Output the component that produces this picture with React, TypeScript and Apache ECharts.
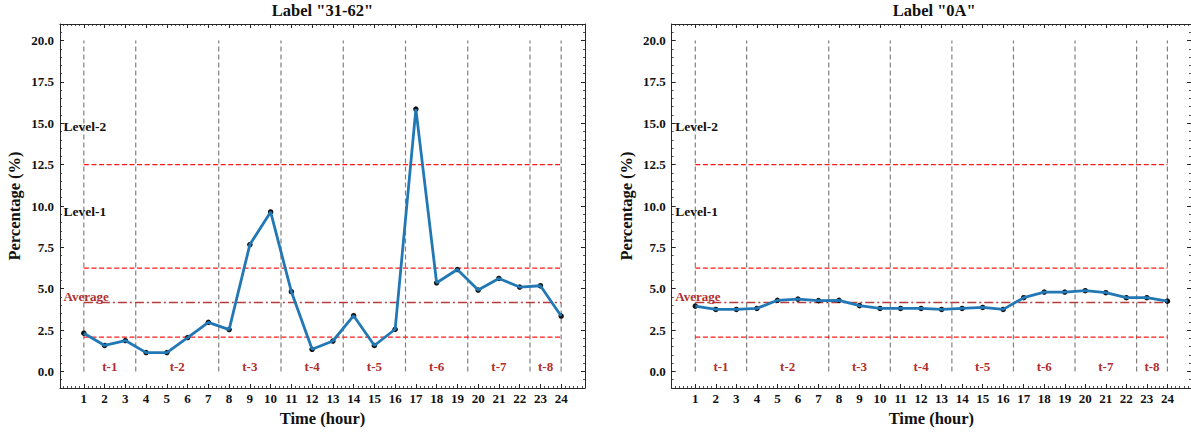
import React, { useEffect, useRef } from 'react';
import * as echarts from 'echarts';

const hours = [1, 2, 3, 4, 5, 6, 7, 8, 9, 10, 11, 12, 13, 14, 15, 16, 17, 18, 19, 20, 21, 22, 23, 24];
const seriesA = [2.31, 1.57, 1.87, 1.14, 1.14, 2.05, 2.97, 2.53, 7.67, 9.64, 4.82, 1.34, 1.84, 3.37, 1.57, 2.55, 15.86, 5.36, 6.16, 4.92, 5.62, 5.1, 5.18, 3.35];
const seriesB = [3.95, 3.75, 3.75, 3.81, 4.3, 4.37, 4.28, 4.3, 3.98, 3.81, 3.81, 3.81, 3.75, 3.81, 3.87, 3.75, 4.46, 4.8, 4.8, 4.88, 4.76, 4.46, 4.46, 4.25];
const titles = ['Label "31-62"', 'Label "0A"'];
const periodBounds = [1, 3.5, 7.5, 10.5, 13.5, 16.5, 19.5, 22.5, 24];
const periodNames = ['t-1', 't-2', 't-3', 't-4', 't-5', 't-6', 't-7', 't-8'];
const periodCenters = [2.25, 5.5, 9, 12, 15, 18, 21, 23.25];
const periodLabelY = 0.3;
const thresholdLevels = [2.08, 6.25, 12.5];
const averageLevel = 4.17;
const levelNames = ['Level-1', 'Level-2'];
const levelNameY = [9.65, 14.8];
const averageName = 'Average';
const averageNameY = 4.55;
const yTicks = [0, 2.5, 5, 7.5, 10, 12.5, 15, 17.5, 20];
const vLineRange = [0, 20];

const FONT = '"Liberation Serif", "Times New Roman", serif';
const AX = '#262626';
const RED_TXT = '#b02f2f';

const xMinor: number[] = [];
for (let i = 0; i <= 125; i++) xMinor.push(Math.round(i * 2) / 10);
const yMinor: number[] = [];
for (let i = -2; i <= 42; i++) yMinor.push(i / 2);

const GRIDS = [
  { left: 60, top: 24, width: 525, height: 366.6 },
  { left: 671.7, top: 24, width: 525, height: 366.6 },
];

function xAxes(g: number) {
  const base: any = {
    type: 'value', gridIndex: g, min: -0.15, max: 25.15,
    splitLine: { show: false },
    axisLine: { show: false, onZero: false },
    axisLabel: { show: false },
  };
  const line = { show: true, onZero: false, lineStyle: { color: AX, width: 1 } };
  const major = { show: true, inside: true, length: 4, customValues: hours, lineStyle: { color: AX, width: 1 } };
  const minor = { show: true, inside: true, length: 2, customValues: xMinor, lineStyle: { color: AX, width: 0.8 } };
  return [
    {
      ...base, position: 'bottom', axisLine: line, axisTick: major,
      axisLabel: { show: true, customValues: hours, margin: 4, fontFamily: FONT, fontWeight: 'bold', fontSize: 13, color: '#111' },
      name: 'Time (hour)', nameLocation: 'middle', nameGap: 22,
      nameTextStyle: { fontFamily: FONT, fontWeight: 'bold', fontSize: 16.5, color: '#111' },
    },
    { ...base, position: 'bottom', axisTick: minor },
    { ...base, position: 'top', axisLine: line, axisTick: major },
    { ...base, position: 'top', axisTick: minor },
  ];
}

function yAxes(g: number) {
  const base: any = {
    type: 'value', gridIndex: g, min: -1, max: 21,
    splitLine: { show: false },
    axisLine: { show: false, onZero: false },
    axisLabel: { show: false },
  };
  const line = { show: true, onZero: false, lineStyle: { color: AX, width: 1 } };
  const major = { show: true, inside: true, length: 4, customValues: yTicks, lineStyle: { color: AX, width: 1 } };
  const minor = { show: true, inside: true, length: 2, customValues: yMinor, lineStyle: { color: AX, width: 0.8 } };
  return [
    {
      ...base, position: 'left', axisLine: line, axisTick: major,
      axisLabel: { show: true, customValues: yTicks, margin: 6, formatter: (v: number) => v.toFixed(1), fontFamily: FONT, fontWeight: 'bold', fontSize: 13, color: '#111' },
      name: 'Percentage (%)', nameLocation: 'middle', nameGap: 37,
      nameTextStyle: { fontFamily: FONT, fontWeight: 'bold', fontSize: 16.5, color: '#111' },
    },
    { ...base, position: 'left', axisTick: minor },
    { ...base, position: 'right', axisLine: line, axisTick: major },
    { ...base, position: 'right', axisTick: minor },
  ];
}

function textSeries(xi: number, yi: number, data: any[], position: string, fontSize: number, color: string) {
  return {
    type: 'scatter', xAxisIndex: xi, yAxisIndex: yi, silent: true, z: 5,
    symbol: 'circle', symbolSize: 1, itemStyle: { color: 'rgba(0,0,0,0)', opacity: 1 },
    label: { show: true, position, distance: 0, formatter: '{b}', fontFamily: FONT, fontWeight: 'bold', fontSize, color, opacity: 1 },
    data,
  };
}

function seriesFor(g: number, values: number[]) {
  const xi = g * 4;
  const yi = g * 4;
  const common = { xAxisIndex: xi, yAxisIndex: yi, silent: true, symbol: 'none' };
  const out: any[] = [];
  periodBounds.forEach((b) => {
    out.push({
      ...common, type: 'line', z: 1,
      data: [[b, vLineRange[0]], [b, vLineRange[1]]],
      lineStyle: { color: '#808080', width: 1.2, type: [5, 3] },
    });
  });
  thresholdLevels.forEach((v) => {
    out.push({
      ...common, type: 'line', z: 2,
      data: [[hours[0], v], [hours[hours.length - 1], v]],
      lineStyle: { color: '#ff1a1a', width: 1.3, type: [5, 2.6] },
    });
  });
  out.push({
    ...common, type: 'line', z: 2,
    data: [[hours[0], averageLevel], [hours[hours.length - 1], averageLevel]],
    lineStyle: { color: '#b53c3c', width: 1.5, type: [9, 3, 2, 3] },
  });
  out.push({
    type: 'scatter', xAxisIndex: xi, yAxisIndex: yi, silent: true, z: 3,
    symbol: 'circle', symbolSize: 5.5,
    itemStyle: { color: '#111', opacity: 1 },
    data: hours.map((h, i) => [h, values[i]]),
  });
  out.push({
    ...common, type: 'line', z: 4,
    data: hours.map((h, i) => [h, values[i]]),
    lineStyle: { color: '#2278b5', width: 2.8 },
  });
  out.push(textSeries(xi, yi, levelNames.map((n, i) => ({ name: n, value: [0, levelNameY[i]] })), 'right', 13.5, '#111'));
  out.push(textSeries(xi, yi, [{ name: averageName, value: [0, averageNameY] }], 'right', 13, RED_TXT));
  out.push(textSeries(xi, yi, periodNames.map((n, i) => ({ name: n, value: [periodCenters[i], periodLabelY] })), 'inside', 13, RED_TXT));
  return out;
}

export default function App() {
  const ref = useRef<HTMLDivElement>(null);
  useEffect(() => {
    if (!ref.current) return;
    const chart = echarts.init(ref.current, undefined, { renderer: 'svg' });
    const option: any = {
      animation: false,
      backgroundColor: '#ffffff',
      grid: GRIDS.map((g) => ({ ...g, containLabel: false })),
      xAxis: [...xAxes(0), ...xAxes(1)],
      yAxis: [...yAxes(0), ...yAxes(1)],
      series: [...seriesFor(0, seriesA), ...seriesFor(1, seriesB)],
      graphic: titles.map((t, i) => ({
        type: 'text',
        x: GRIDS[i].left + GRIDS[i].width / 2,
        y: 10,
        style: { text: t, align: 'center', verticalAlign: 'middle', fontFamily: FONT, fontWeight: 'bold', fontSize: 16.5, fill: '#111' },
      })),
    };
    chart.setOption(option);
    return () => chart.dispose();
  }, []);
  return <div ref={ref} style={{ position: 'absolute', left: 0, top: 0, width: 1191, height: 432 }} />;
}
